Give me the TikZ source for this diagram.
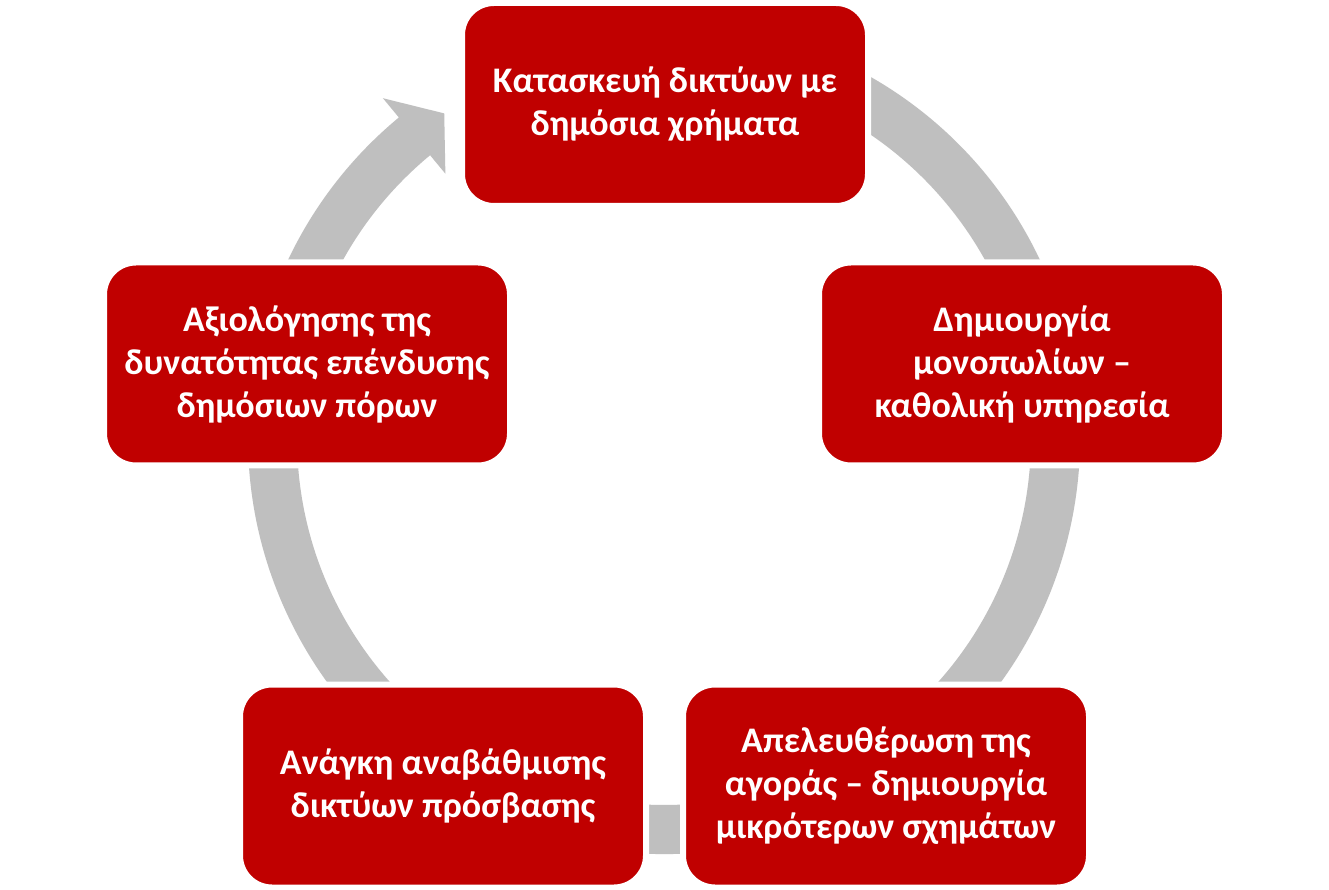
\documentclass[tikz,border=0pt]{standalone}
\usepackage{fontspec}
\setmainfont{Carlito}
\definecolor{boxred}{HTML}{C00000}
\definecolor{ringgray}{HTML}{BFBFBF}
\begin{document}
\begin{tikzpicture}[x=1pt,y=1pt,
  stage/.style={rectangle, rounded corners=32pt, fill=boxred, draw=white,
    line width=6pt, minimum width=406pt, minimum height=203pt, text=white,
    font=\fontsize{36}{43}\selectfont\bfseries, align=center, inner sep=0pt},
  ring/.style={fill=ringgray, draw=none}]
\useasboundingbox (0,0) rectangle (1329,889);
\fill[white] (0,0) rectangle (1329,889);
\coordinate (C) at (664,451);
% circular arrow
\fill[ring] ([shift={(115:416)}]C) arc[start angle=115, end angle=-230.4, radius=416]
  -- ([shift={(-230.4:441)}]C) -- ([shift={(-235.9:392)}]C)
  -- ([shift={(-230.4:343)}]C) -- ([shift={(-230.4:367)}]C)
  arc[start angle=-230.4, end angle=115, radius=367] -- cycle;
% stages
\node[stage] (top) at (665,784.5) {Κατασκευή δικτύων με\\δημόσια χρήματα};
\node[stage] (right) at (1022,525) {Δημιουργία\\μονοπωλίων –\\καθολική υπηρεσία};
\node[stage] (bright) at (886,103) {Απελευθέρωση της\\αγοράς – δημιουργία\\μικρότερων σχημάτων};
\node[stage] (bleft) at (443,103) {Ανάγκη αναβάθμισης\\δικτύων πρόσβασης};
\node[stage] (left) at (307,525) {Αξιολόγησης της\\δυνατότητας επένδυσης\\δημόσιων πόρων};
\end{tikzpicture}
\end{document}
